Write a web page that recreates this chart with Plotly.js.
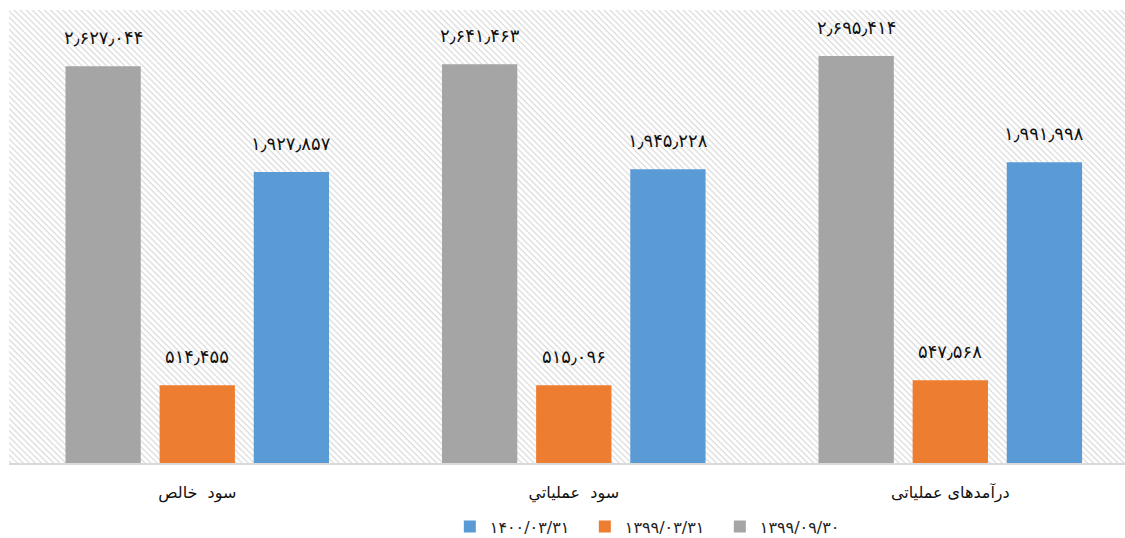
<!DOCTYPE html>
<html>
<head>
<meta charset="utf-8">
<script src="https://cdn.plot.ly/plotly-3.0.1.min.js"></script>
<style>html,body{margin:0;padding:0;background:#fff;}#chart{width:1125px;height:538px;}</style>
</head>
<body>
<div id="chart"></div>
<script>
// ---- data ----
const categories = ["سود  خالص", "سود  عملیاتي", "درآمدهای عملیاتی"];
const seriesNames = ["۱۳۹۹/۰۹/۳۰", "۱۳۹۹/۰۳/۳۱", "۱۴۰۰/۰۳/۳۱"];
const valuesGray = [2627044, 2641463, 2695414];
const valuesOrange = [514455, 515096, 547568];
const valuesBlue = [1927857, 1945228, 1991998];
const seriesColors = ["#A5A5A5", "#ED7D31", "#5B9BD5"];

const allValues = [valuesGray, valuesOrange, valuesBlue];
const faDigits = "۰۱۲۳۴۵۶۷۸۹";
function toFa(n) {
  const s = n.toLocaleString("en-US").replace(/,/g, "٫");
  return s.replace(/[0-9]/g, d => faDigits[+d]);
}

const xIdx = categories.map((c, i) => i);
const traces = allValues.map((vals, j) => ({
  type: "bar",
  x: xIdx,
  y: vals,
  name: seriesNames[j],
  marker: { color: seriesColors[j] },
  hoverinfo: "skip"
}));

const annotations = [];
allValues.forEach((vals, j) => {
  vals.forEach((v, i) => {
    annotations.push({
      xref: "x", yref: "y",
      x: i + (j - 1) * 0.25,
      y: v,
      yanchor: "bottom",
      yshift: 16,
      showarrow: false,
      text: toFa(v),
      font: { family: "DejaVu Sans", size: 18, color: "#111" }
    });
  });
});

const W = 1116, H = 453;
const svg = '<svg xmlns="http://www.w3.org/2000/svg" width="' + W + '" height="' + H + '">' +
  '<defs><pattern id="p" width="4.3" height="4.3" patternUnits="userSpaceOnUse" patternTransform="rotate(45)">' +
  '<rect x="0" y="0" width="4.3" height="1.3" fill="#dcdcdc"/></pattern></defs>' +
  '<rect width="' + W + '" height="' + H + '" fill="#ffffff"/>' +
  '<rect width="' + W + '" height="' + H + '" fill="url(#p)"/></svg>';
const bgSrc = "data:image/svg+xml;charset=utf-8," + encodeURIComponent(svg);

const layout = {
  width: 1125, height: 538,
  margin: { l: 9, r: 0, t: 10, b: 75, autoexpand: false },
  paper_bgcolor: "#ffffff",
  plot_bgcolor: "rgba(0,0,0,0)",
  barmode: "group",
  bargap: 0.25,
  bargroupgap: 0.2,
  font: { family: "DejaVu Sans", size: 16, color: "#111" },
  xaxis: {
    range: [-0.5, 2.464],
    tickmode: "array",
    tickvals: xIdx,
    ticktext: categories,
    ticks: "",
    ticklabelstandoff: 14,
    showline: true,
    linecolor: "#d9d9d9",
    linewidth: 2,
    showgrid: false,
    zeroline: false,
    automargin: false,
    tickfont: { family: "DejaVu Sans", size: 16, color: "#111" },
    fixedrange: true
  },
  yaxis: {
    range: [0, 3000000],
    visible: false,
    showgrid: false,
    zeroline: false,
    fixedrange: true
  },
  showlegend: true,
  legend: {
    orientation: "h",
    traceorder: "reversed",
    x: 0.395, xanchor: "left",
    yref: "container",
    y: 0.021, yanchor: "middle",
    entrywidth: 90,
    font: { family: "DejaVu Sans", size: 16, color: "#222" },
    bgcolor: "rgba(0,0,0,0)"
  },
  images: [{
    source: bgSrc,
    xref: "paper", yref: "paper",
    x: 0, y: 1, sizex: 1, sizey: 1,
    xanchor: "left", yanchor: "top",
    sizing: "stretch",
    layer: "below"
  }],
  annotations: annotations
};

Plotly.newPlot("chart", traces, layout, { displayModeBar: false, staticPlot: true });
</script>
</body>
</html>
